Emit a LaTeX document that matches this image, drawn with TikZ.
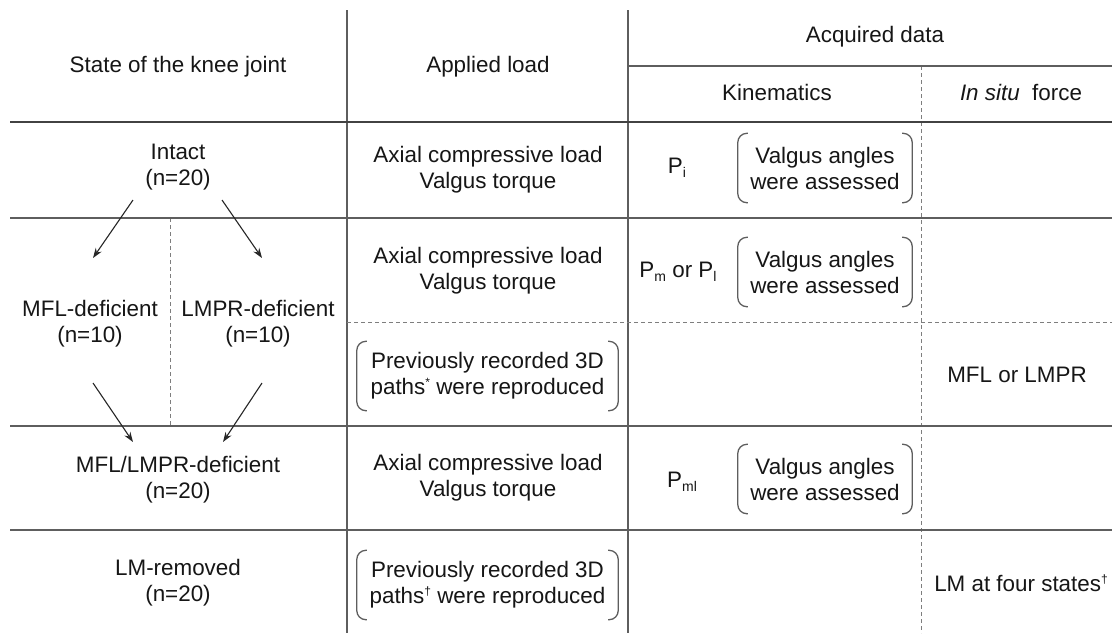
\documentclass[tikz,border=0pt]{standalone}
\usepackage{fontspec}
\setmainfont{Liberation Sans}
\usetikzlibrary{arrows.meta}
\definecolor{linec}{HTML}{5E5E5E}
\definecolor{textc}{HTML}{161616}
\newcommand\tfont{\fontsize{22.4}{26}\selectfont}
\newcommand\mysub[1]{\raisebox{-4pt}{\fontsize{14}{14}\selectfont #1}}
\newcommand\mysup[1]{\raisebox{8pt}{\fontsize{12}{12}\selectfont #1}}
\newcommand\brkpair[1]{%
  \draw[brk] ([xshift=10pt]#1.north west) -- (#1.north west) -- (#1.south west) -- ([xshift=10pt]#1.south west);
  \draw[brk] ([xshift=-10pt]#1.north east) -- (#1.north east) -- (#1.south east) -- ([xshift=-10pt]#1.south east);}
\begin{document}
\begin{tikzpicture}[x=1pt,y=-1pt,
  txt/.style={align=center,font=\tfont,text=textc,inner sep=0pt},
  rule/.style={draw=linec,line width=1.2pt},
  headrule/.style={draw=linec!70!black,line width=2pt},
  dashrule/.style={draw=linec!80,line width=1pt,dash pattern=on 4pt off 3pt},
  arr/.style={draw=black!85,line width=1.1pt,-{Stealth[length=10pt,width=7pt]}},
  brk/.style={draw=linec,line width=1.3pt,rounded corners=9pt},
  vbox/.style={txt,minimum width=174pt,minimum height=69pt},
  pbox/.style={txt,minimum width=261pt,minimum height=69pt},
]
\useasboundingbox (0,0) rectangle (1112,633);
\fill[white] (0,0) rectangle (1112,633);

% table rules
\draw[rule] (347,10) -- (347,633);
\draw[rule] (628,10) -- (628,633);
\draw[dashrule] (921,66) -- (921,633);
\draw[dashrule] (170,218) -- (170,426);
\draw[rule] (628,66) -- (1112,66);
\draw[headrule] (10,122) -- (1112,122);
\draw[rule] (10,218) -- (1112,218);
\draw[dashrule] (347,322) -- (1112,322);
\draw[rule] (10,426) -- (1112,426);
\draw[rule] (10,530) -- (1112,530);

% headers
\node[txt] (hstate) at (178,67) {State of the knee joint};
\node[txt] (hload) at (488,67) {Applied load};
\node[txt] (hacq) at (875,37) {Acquired data};
\node[txt] (hkin) at (777,92) {Kinematics};
\node[txt] (hforce) at (1021,92) {\textit{In situ}\ \ force};

% state column
\node[txt] (intact) at (178,167) {Intact\\(n=20)};
\node[txt] (mfl) at (90,324) {MFL-deficient\\(n=10)};
\node[txt] (lmpr) at (258,324) {LMPR-deficient\\(n=10)};
\node[txt] (both) at (178,480) {MFL/LMPR-deficient\\(n=20)};
\node[txt] (lmrem) at (178,583) {LM-removed\\(n=20)};

\coordinate (a1s) at (133,200); \coordinate (a1e) at (93,258);
\coordinate (a2s) at (222,200); \coordinate (a2e) at (262,258);
\coordinate (a3s) at (93,383);  \coordinate (a3e) at (133,442);
\coordinate (a4s) at (262,383); \coordinate (a4e) at (223,442);
\draw[arr] (a1s) -- (a1e);
\draw[arr] (a2s) -- (a2e);
\draw[arr] (a3s) -- (a3e);
\draw[arr] (a4s) -- (a4e);

% applied load column
\node[txt] (load1) at (488,170) {Axial compressive load\\Valgus torque};
\node[txt] (load2) at (488,271) {Axial compressive load\\Valgus torque};
\node[pbox] (path1) at (487.5,376) {Previously recorded 3D\\paths\mysup{*} were reproduced};
\brkpair{path1}
\node[txt] (load3) at (488,478) {Axial compressive load\\Valgus torque};
\node[pbox] (path2) at (487.5,585) {Previously recorded 3D\\paths\mysup{\textdagger} were reproduced};
\brkpair{path2}

% kinematics column
\node[txt] (pi) at (677,168) {P\mysub{i}};
\node[vbox] (v1) at (825,168) {Valgus angles\\were assessed};
\brkpair{v1}
\node[txt] (pml1) at (678,272) {P\mysub{m} or P\mysub{l}};
\node[vbox] (v2) at (825,272) {Valgus angles\\were assessed};
\brkpair{v2}
\node[txt] (pml) at (682,482) {P\mysub{ml}};
\node[vbox] (v3) at (825,479) {Valgus angles\\were assessed};
\brkpair{v3}

% in situ force column
\node[txt] (f1) at (1017,375) {MFL or LMPR};
\node[txt] (f2) at (1021,583) {LM at four states\mysup{\textdagger}};
\end{tikzpicture}
\end{document}
